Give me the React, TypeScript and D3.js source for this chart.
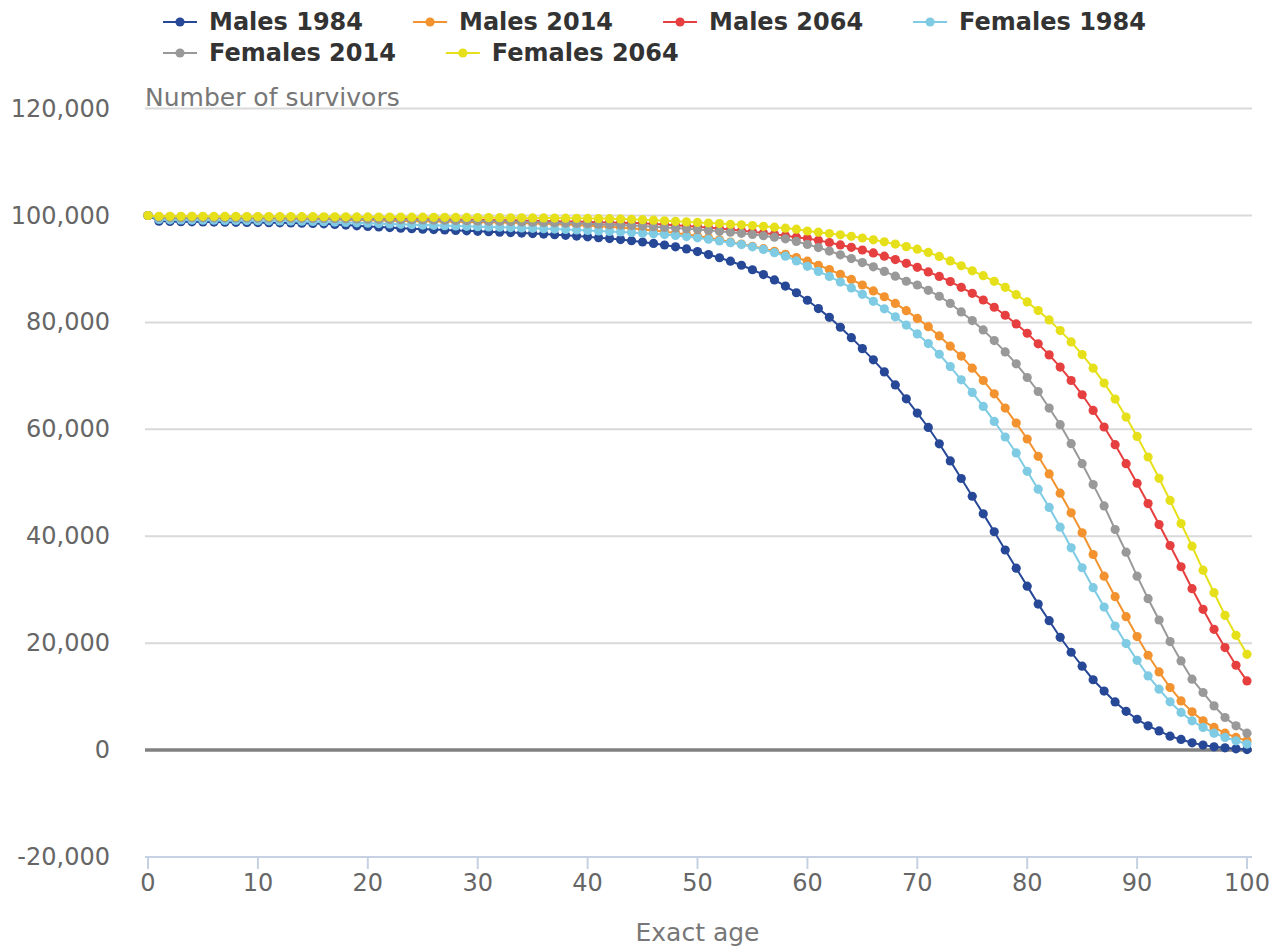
import React, { useEffect, useRef } from 'react';
import * as d3 from 'd3';

// Exact age 0..100
const ages = d3.range(0, 101);

// Number of survivors
const males1984 = [
  100000, 98950, 98890, 98850, 98820, 98790, 98770, 98740, 98720, 98700,
  98680, 98650, 98630, 98600, 98560, 98510, 98440, 98340, 98210, 98080,
  97960, 97850, 97740, 97640, 97540, 97450, 97370, 97290, 97210, 97130,
  97050, 96970, 96890, 96800, 96710, 96620, 96520, 96410, 96290, 96160,
  96020, 95860, 95690, 95500, 95290, 95050, 94780, 94480, 94150, 93750,
  93250, 92700, 92100, 91450, 90700, 89850, 88950, 87950, 86800, 85550,
  84150, 82600, 80950, 79100, 77150, 75100, 73000, 70750, 68300, 65700,
  63050, 60350, 57300, 54100, 50800, 47480, 44190, 40840, 37430, 34020,
  30670, 27310, 24200, 21100, 18300, 15700, 13160, 11040, 9000, 7260,
  5770, 4530, 3590, 2610, 1990, 1360, 930, 610, 430, 240,
  100,
];

const males2014 = [
  100000, 99560, 99530, 99510, 99500, 99490, 99480, 99470, 99460, 99450,
  99440, 99430, 99420, 99400, 99380, 99350, 99310, 99260, 99200, 99150,
  99100, 99060, 99020, 98980, 98950, 98920, 98890, 98860, 98830, 98800,
  98760, 98720, 98680, 98630, 98580, 98520, 98460, 98390, 98310, 98220,
  98120, 98010, 97890, 97760, 97600, 97400, 97200, 96980, 96750, 96450,
  96150, 95850, 95450, 95050, 94650, 94250, 93800, 93300, 92750, 92150,
  91450, 90700, 89900, 89000, 88050, 87000, 85900, 84800, 83550, 82200,
  80750, 79200, 77480, 75550, 73700, 71450, 69140, 66650, 63980, 61180,
  58190, 54950, 51660, 48050, 44380, 40650, 36590, 32540, 28700, 24960,
  21230, 17740, 14620, 11710, 9200, 7150, 5470, 4240, 3170, 2370,
  1740,
];

const males2064 = [
  100000, 99780, 99770, 99760, 99750, 99740, 99730, 99720, 99715, 99710,
  99700, 99690, 99680, 99670, 99650, 99630, 99610, 99580, 99550, 99520,
  99490, 99460, 99430, 99400, 99370, 99340, 99310, 99280, 99250, 99220,
  99190, 99160, 99130, 99100, 99060, 99020, 98980, 98940, 98900, 98860,
  98810, 98760, 98710, 98660, 98610, 98550, 98430, 98300, 98170, 98030,
  97880, 97720, 97550, 97370, 97170, 96950, 96720, 96480, 96220, 95950,
  95700, 95350, 94950, 94500, 94050, 93550, 93000, 92400, 91750, 91050,
  90300, 89450, 88600, 87650, 86570, 85450, 84200, 82840, 81340, 79720,
  77980, 75990, 73930, 71640, 69140, 66470, 63530, 60440, 57130, 53580,
  49920, 46110, 42190, 38270, 34300, 30190, 26330, 22590, 19170, 15870,
  12940,
];

const females1984 = [
  100000, 99250, 99200, 99170, 99150, 99130, 99110, 99090, 99070, 99050,
  99030, 99010, 98990, 98960, 98930, 98890, 98840, 98780, 98710, 98640,
  98570, 98500, 98430, 98360, 98290, 98220, 98160, 98100, 98040, 97980,
  97920, 97860, 97800, 97740, 97670, 97600, 97530, 97460, 97380, 97300,
  97210, 97120, 97030, 96930, 96820, 96700, 96570, 96430, 96260, 96060,
  95830, 95560, 95250, 94920, 94560, 94150, 93650, 93050, 92400, 91500,
  90500, 89550, 88600, 87550, 86450, 85250, 83950, 82550, 81050, 79500,
  77850, 76050, 74050, 71750, 69270, 66900, 64280, 61480, 58570, 55580,
  52150, 48800, 45400, 41690, 37840, 34110, 30380, 26750, 23210, 19920,
  16800, 13870, 11390, 9020, 7040, 5470, 4240, 3170, 2370, 1740,
  1120,
];

const females2014 = [
  100000, 99640, 99620, 99600, 99590, 99580, 99570, 99560, 99550, 99540,
  99530, 99520, 99510, 99500, 99480, 99460, 99440, 99410, 99380, 99350,
  99320, 99290, 99260, 99230, 99200, 99170, 99140, 99110, 99070, 99030,
  98990, 98950, 98910, 98860, 98810, 98760, 98700, 98640, 98580, 98510,
  98440, 98370, 98290, 98210, 98120, 98020, 97900, 97780, 97650, 97510,
  97370, 97220, 97050, 96870, 96670, 96450, 96210, 95940, 95640, 95150,
  94600, 94000, 93350, 92650, 91950, 91200, 90400, 89550, 88650, 87700,
  87000, 86000, 84900, 83550, 81960, 80340, 78600, 76600, 74490, 72250,
  69700, 67080, 63980, 60870, 57320, 53580, 49660, 45680, 41260, 37020,
  32540, 28320, 24330, 20290, 16670, 13260, 10770, 8270, 6100, 4540,
  3170,
];

const females2064 = [
  100000, 99860, 99855, 99850, 99845, 99840, 99835, 99830, 99825, 99820,
  99815, 99810, 99805, 99800, 99790, 99780, 99770, 99760, 99750, 99740,
  99730, 99720, 99710, 99700, 99690, 99680, 99670, 99660, 99650, 99640,
  99630, 99615, 99600, 99585, 99570, 99555, 99540, 99520, 99500, 99480,
  99460, 99430, 99400, 99360, 99300, 99220, 99120, 99020, 98920, 98810,
  98700, 98600, 98490, 98370, 98250, 98120, 97980, 97820, 97640, 97450,
  97100, 96880, 96640, 96380, 96100, 95790, 95450, 95070, 94650, 94180,
  93700, 93100, 92350, 91500, 90600, 89650, 88740, 87690, 86570, 85200,
  83830, 82210, 80470, 78470, 76360, 73990, 71450, 68650, 65660, 62300,
  58680, 54830, 50840, 46700, 42380, 38140, 33660, 29440, 25200, 21470,
  17920,
];

const seriesNames = ['Males 1984', 'Males 2014', 'Males 2064', 'Females 1984', 'Females 2014', 'Females 2064'];
const seriesValues = [males1984, males2014, males2064, females1984, females2014, females2064];
const seriesColors = ['#274897', '#f3932f', '#e5403f', '#7ecbe3', '#999999', '#e6e01a'];

const yTicks = [-20000, 0, 20000, 40000, 60000, 80000, 100000, 120000];
const xTicks = [0, 10, 20, 30, 40, 50, 60, 70, 80, 90, 100];

function App() {
  const svgRef = useRef<SVGSVGElement>(null);

  useEffect(() => {
    const svg = d3.select(svgRef.current);
    svg.selectAll('*').remove();

    const plotLeft = 145;
    const plotRight = 1252;
    const font = 'DejaVu Sans, sans-serif';

    const x = d3.scaleLinear().domain([0, 100]).range([148, 1247]);
    const y = d3.scaleLinear().domain([-20000, 120000]).range([857, 108.6]);

    // Gridlines
    svg.append('g')
      .selectAll('line')
      .data(yTicks.filter(d => d > 0))
      .join('line')
      .attr('x1', plotLeft)
      .attr('x2', plotRight)
      .attr('y1', d => y(d))
      .attr('y2', d => y(d))
      .attr('stroke', '#d9d9d9')
      .attr('stroke-width', 2);

    // Bottom axis
    const axisY = y(-20000);
    svg.append('line')
      .attr('x1', plotLeft)
      .attr('x2', plotRight)
      .attr('y1', axisY)
      .attr('y2', axisY)
      .attr('stroke', '#c6d2e3')
      .attr('stroke-width', 2);

    svg.append('g')
      .selectAll('line')
      .data(xTicks)
      .join('line')
      .attr('x1', d => x(d))
      .attr('x2', d => x(d))
      .attr('y1', axisY)
      .attr('y2', axisY + 12)
      .attr('stroke', '#c6d2e3')
      .attr('stroke-width', 2);

    svg.append('g')
      .selectAll('text')
      .data(xTicks)
      .join('text')
      .attr('x', d => x(d))
      .attr('y', axisY + 26)
      .attr('text-anchor', 'middle')
      .attr('dominant-baseline', 'central')
      .attr('font-family', font)
      .attr('font-size', 24)
      .attr('fill', '#666666')
      .text(d => d);

    // Y tick labels (plain hyphen for negatives)
    const fmt = d3.format(',');
    svg.append('g')
      .selectAll('text')
      .data(yTicks)
      .join('text')
      .attr('x', 110)
      .attr('y', d => y(d))
      .attr('text-anchor', 'end')
      .attr('dominant-baseline', 'central')
      .attr('font-family', font)
      .attr('font-size', 24)
      .attr('fill', '#666666')
      .text(d => fmt(d).replace('\u2212', '-'));

    // Zero line
    svg.append('line')
      .attr('x1', plotLeft)
      .attr('x2', plotRight)
      .attr('y1', y(0))
      .attr('y2', y(0))
      .attr('stroke', '#808080')
      .attr('stroke-width', 3.5);

    // Axis titles
    svg.append('text')
      .attr('x', plotLeft)
      .attr('y', 97)
      .attr('dominant-baseline', 'central')
      .attr('font-family', font)
      .attr('font-size', 25)
      .attr('fill', '#777777')
      .text('Number of survivors');

    svg.append('text')
      .attr('x', (x(0) + x(100)) / 2)
      .attr('y', 932)
      .attr('text-anchor', 'middle')
      .attr('dominant-baseline', 'central')
      .attr('font-family', font)
      .attr('font-size', 25)
      .attr('fill', '#777777')
      .text('Exact age');

    // Series
    const line = d3.line<number>()
      .x((d, i) => x(ages[i]))
      .y(d => y(d));

    seriesValues.forEach((vals, s) => {
      const g = svg.append('g');
      g.append('path')
        .datum(vals)
        .attr('fill', 'none')
        .attr('stroke', seriesColors[s])
        .attr('stroke-width', 2)
        .attr('d', line);
      g.selectAll('circle')
        .data(vals)
        .join('circle')
        .attr('cx', (d, i) => x(ages[i]))
        .attr('cy', d => y(d))
        .attr('r', 4.6)
        .attr('fill', seriesColors[s]);
    });

    // Legend
    const legend = svg.append('g');
    const rowY = [22, 53];
    let cx = 163;
    seriesNames.forEach((name, i) => {
      const row = i < 4 ? 0 : 1;
      if (i === 4) cx = 163;
      const item = legend.append('g').attr('transform', `translate(${cx},${rowY[row]})`);
      item.append('line')
        .attr('x1', 0)
        .attr('x2', 34)
        .attr('stroke', seriesColors[i])
        .attr('stroke-width', 2);
      item.append('circle')
        .attr('cx', 17)
        .attr('r', 4.6)
        .attr('fill', seriesColors[i]);
      const t = item.append('text')
        .attr('x', 46)
        .attr('dominant-baseline', 'central')
        .attr('font-family', font)
        .attr('font-weight', 'bold')
        .attr('font-size', 24)
        .attr('fill', '#333333')
        .text(name);
      const w = (t.node() as SVGTextElement).getComputedTextLength();
      cx += 46 + w + 50;
    });
  }, []);

  return (
    <svg
      ref={svgRef}
      width={1281}
      height={947}
      style={{ position: 'absolute', left: 0, top: 0, background: '#ffffff' }}
    />
  );
}

export default App;
